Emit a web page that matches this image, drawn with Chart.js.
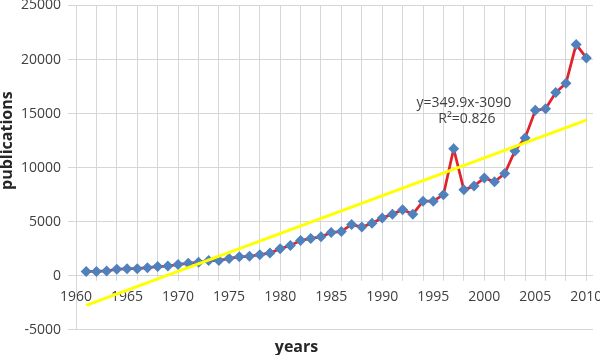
<!DOCTYPE html>
<html>
<head>
<meta charset="utf-8">
<script src="https://cdn.jsdelivr.net/npm/chart.js@4.4.1/dist/chart.umd.min.js"></script>
<style>
  html, body { margin: 0; padding: 0; background: #ffffff; }
  #wrap { width: 600px; height: 355px; position: relative; }
</style>
</head>
<body>
<div id="wrap"><canvas id="chart"></canvas></div>
<script>
// ---- data ----
const years = [
  1961, 1962, 1963, 1964, 1965, 1966, 1967, 1968, 1969, 1970,
  1971, 1972, 1973, 1974, 1975, 1976, 1977, 1978, 1979, 1980,
  1981, 1982, 1983, 1984, 1985, 1986, 1987, 1988, 1989, 1990,
  1991, 1992, 1993, 1994, 1995, 1996, 1997, 1998, 1999, 2000,
  2001, 2002, 2003, 2004, 2005, 2006, 2007, 2008, 2009, 2010
];
const publications = [
  400, 400, 450, 600, 650, 650, 750, 850, 900, 1050,
  1150, 1250, 1400, 1400, 1600, 1750, 1800, 1950, 2100, 2500,
  2800, 3250, 3450, 3600, 4000, 4100, 4750, 4500, 4850, 5350,
  5700, 6100, 5700, 6900, 6900, 7500, 11750, 7950, 8300, 9050,
  8700, 9450, 11550, 12750, 15300, 15450, 16950, 17800, 21400, 20150
];
const trendYears = [1961, 2010];
const trendValues = [-2740, 14405];
const yTicksUpper = [0, 5000, 10000, 15000, 20000, 25000];
const yTicksLower = [-5000];
const xLabelYears = [1960, 1965, 1970, 1975, 1980, 1985, 1990, 1995, 2000, 2005, 2010];
const xGridYears = [1960, 1962, 1964, 1966, 1968, 1970, 1972, 1974, 1976, 1978, 1980, 1982, 1984,
  1986, 1988, 1990, 1992, 1994, 1996, 1998, 2000, 2002, 2004, 2006, 2008, 2010];
const equationLines = ['y=349.9x-3090', 'R\u00B2=0.826'];
const equationAnchorYear = [1998, 1998.3];
const equationAnchorValue = [16000, 14500];
const xTitle = 'years';
const yTitle = 'publications';

// ---- styles ----
const FONT = "'Open Sans', 'DejaVu Sans', sans-serif";
const GRID = '#d6d6d6';
const TEXT = '#3f3f3f';
const TITLE = '#262626';

Chart.defaults.font.family = FONT;

const seriesPoints = years.map((yr, i) => ({ x: yr, y: publications[i] }));
const trendPoints = trendYears.map((yr, i) => ({ x: yr, y: trendValues[i] }));

const verticalGrid = {
  id: 'verticalGrid',
  beforeDatasetsDraw(chart) {
    const { ctx, chartArea } = chart;
    const xs = chart.scales.x, ys = chart.scales.y;
    const bottom = ys.getPixelForValue(0) + 5;
    ctx.save();
    ctx.strokeStyle = GRID;
    ctx.lineWidth = 1;
    ctx.beginPath();
    for (const yr of xGridYears) {
      const px = Math.round(xs.getPixelForValue(yr) - 0.5) + 0.5;
      ctx.moveTo(px, chartArea.top);
      ctx.lineTo(px, bottom);
    }
    ctx.stroke();
    ctx.restore();
  }
};

const equationLabel = {
  id: 'equationLabel',
  afterDatasetsDraw(chart) {
    const { ctx } = chart;
    const xs = chart.scales.x, ys = chart.scales.y;
    ctx.save();
    ctx.font = '14px ' + FONT;
    ctx.fillStyle = TEXT;
    ctx.textAlign = 'center';
    ctx.textBaseline = 'middle';
    equationLines.forEach((t, i) => {
      ctx.fillText(t, xs.getPixelForValue(equationAnchorYear[i]), ys.getPixelForValue(equationAnchorValue[i]));
    });
    ctx.restore();
  }
};

new Chart(document.getElementById('chart'), {
  type: 'line',
  data: {
    datasets: [
      {
        label: 'publications',
        data: seriesPoints,
        xAxisID: 'x',
        yAxisID: 'y',
        borderColor: '#e3232c',
        borderWidth: 2.75,
        backgroundColor: '#4f81bd',
        pointStyle: 'rectRot',
        pointRadius: 5.5,
        pointBackgroundColor: '#4f81bd',
        pointBorderColor: '#4f81bd',
        pointBorderWidth: 0,
        tension: 0,
        clip: false,
        order: 2
      },
      {
        label: 'trend',
        data: trendPoints,
        xAxisID: 'x',
        yAxisID: 'y',
        borderColor: '#ffff00',
        borderWidth: 3,
        pointRadius: 0,
        tension: 0,
        clip: false,
        order: 1
      }
    ]
  },
  options: {
    responsive: true,
    maintainAspectRatio: false,
    animation: false,
    layout: { padding: { top: 5, right: 7, bottom: 0, left: 0 } },
    plugins: {
      legend: { display: false },
      tooltip: { enabled: false },
      title: {
        display: true,
        text: xTitle,
        position: 'bottom',
        color: TITLE,
        font: { family: FONT, size: 16, weight: 'bold', lineHeight: 1.2 },
        padding: { top: 8, bottom: -2 }
      }
    },
    scales: {
      x: {
        type: 'linear',
        position: { y: 0 },
        min: 1960,
        max: 2010.65,
        grid: { display: false, drawTicks: false },
        border: { display: false },
        ticks: {
          color: TEXT,
          font: { family: FONT, size: 14 },
          padding: 13,
          autoSkip: false,
          maxRotation: 0,
          minRotation: 0,
          callback: (v) => String(v)
        },
        afterBuildTicks: (s) => { s.ticks = xLabelYears.map(v => ({ value: v })); },
        afterFit: (s) => { s.height = 0; s.paddingLeft = 0; s.paddingRight = 0; }
      },
      y: {
        type: 'linear',
        position: 'left',
        stack: 'left',
        stackWeight: 5,
        weight: 1,
        min: 0,
        max: 25000,
        grid: { color: GRID, lineWidth: 1, tickLength: 8, drawTicks: true },
        border: { display: true, color: GRID, width: 1 },
        ticks: {
          color: TEXT,
          font: { family: FONT, size: 14 },
          padding: 7,
          callback: (v) => String(v)
        },
        title: {
          display: true,
          text: yTitle,
          color: TITLE,
          font: { family: FONT, size: 16, weight: 'bold', lineHeight: 0.875 },
          padding: { top: 0, bottom: 0 }
        },
        afterBuildTicks: (s) => { s.ticks = yTicksUpper.map(v => ({ value: v })); },
        afterFit: (s) => { s.width = 76; s.paddingTop = 0; s.paddingBottom = 0; }
      },
      y2: {
        type: 'linear',
        axis: 'y',
        position: 'left',
        stack: 'left',
        stackWeight: 1,
        weight: 0,
        min: -5000,
        max: 0,
        grid: { color: GRID, lineWidth: 1, tickLength: 8, drawTicks: true },
        border: { display: true, color: GRID, width: 1 },
        ticks: {
          color: TEXT,
          font: { family: FONT, size: 14 },
          padding: 7,
          callback: (v) => String(v)
        },
        afterBuildTicks: (s) => { s.ticks = yTicksLower.map(v => ({ value: v })); },
        afterFit: (s) => { s.width = 76; s.paddingTop = 0; s.paddingBottom = 0; }
      }
    }
  },
  plugins: [verticalGrid, equationLabel]
});
</script>
</body>
</html>
